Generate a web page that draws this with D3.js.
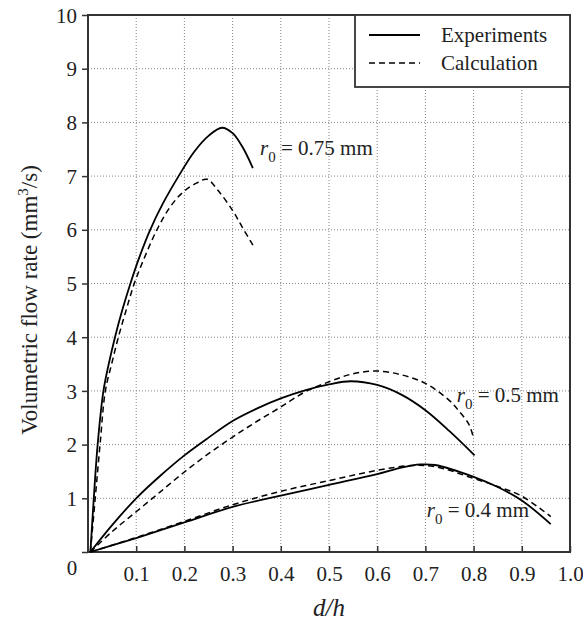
<html>
<head>
<script src="https://d3js.org/d3.v7.min.js"></script>
<style>
  body { margin: 0; background: white; }
  text { font-family: "Liberation Serif", "Times New Roman", "DejaVu Serif", serif; fill: #222; }
</style>
</head>
<body>
<div id="chart"></div>
<script>
// d/h values and flow rates (mm^3/s)
const exp075 = [[0.005,0],[0.012,1],[0.02,2],[0.032,3],[0.043,3.5],[0.056,4],[0.071,4.5],[0.088,5],[0.107,5.5],[0.129,6],[0.156,6.5],[0.188,7],[0.22,7.45],[0.25,7.75],[0.278,7.9],[0.3,7.8],[0.32,7.55],[0.342,7.15]];
const calc075 = [[0.005,0],[0.015,1],[0.025,2],[0.036,3],[0.049,3.5],[0.063,4],[0.079,4.5],[0.096,5],[0.118,5.5],[0.143,6],[0.17,6.42],[0.197,6.7],[0.225,6.87],[0.247,6.94],[0.27,6.73],[0.3,6.36],[0.32,6.05],[0.345,5.67]];
const exp05 = [[0.005,0],[0.05,0.5],[0.1,1.0],[0.15,1.42],[0.2,1.8],[0.25,2.13],[0.3,2.44],[0.35,2.67],[0.4,2.86],[0.45,3.01],[0.5,3.12],[0.545,3.18],[0.6,3.11],[0.65,2.93],[0.7,2.64],[0.75,2.25],[0.802,1.8]];
const calc05 = [[0.005,0],[0.05,0.38],[0.1,0.75],[0.15,1.12],[0.2,1.49],[0.25,1.83],[0.3,2.14],[0.35,2.43],[0.4,2.7],[0.45,2.98],[0.5,3.17],[0.55,3.32],[0.6,3.37],[0.65,3.3],[0.7,3.14],[0.75,2.82],[0.77,2.62],[0.79,2.38],[0.8,2.12]];
const exp04 = [[0.005,0],[0.1,0.26],[0.2,0.55],[0.3,0.84],[0.4,1.05],[0.5,1.25],[0.6,1.45],[0.65,1.57],[0.69,1.63],[0.72,1.62],[0.8,1.4],[0.85,1.21],[0.9,0.96],[0.96,0.52]];
const calc04 = [[0.005,0],[0.1,0.27],[0.2,0.57],[0.3,0.88],[0.4,1.13],[0.5,1.33],[0.6,1.52],[0.67,1.61],[0.72,1.59],[0.8,1.37],[0.85,1.22],[0.9,1.04],[0.96,0.66]];

const xTicks = [0.1,0.2,0.3,0.4,0.5,0.6,0.7,0.8,0.9,1.0];
const yTicks = [1,2,3,4,5,6,7,8,9,10];
const curveLabels = [
  { x: 0.357, y: 7.39, value: "0.75" },
  { x: 0.765, y: 2.79, value: "0.5" },
  { x: 0.703, y: 0.65, value: "0.4" }
];
const legendItems = [
  { name: "Experiments", dash: null },
  { name: "Calculation", dash: "6,4" }
];

const W = 583, H = 620;
const margin = { top: 15, right: 13, bottom: 68, left: 88 };
const width = W - margin.left - margin.right,
  height = H - margin.top - margin.bottom;

const svg = d3.select("#chart").append("svg")
  .attr("width", W).attr("height", H);
const g = svg.append("g")
  .attr("transform", "translate(" + margin.left + "," + margin.top + ")");

const x = d3.scaleLinear().domain([0, 1]).range([0, width]);
const y = d3.scaleLinear().domain([0, 10]).range([height, 0]);

// dotted grid
g.selectAll(".vgrid").data(xTicks.slice(0, -1)).enter().append("line")
  .attr("x1", d => x(d)).attr("x2", d => x(d))
  .attr("y1", 0).attr("y2", height)
  .attr("stroke", "#777").attr("stroke-width", 0.9).attr("stroke-dasharray", "1,2");
g.selectAll(".hgrid").data(yTicks.slice(0, -1)).enter().append("line")
  .attr("y1", d => y(d)).attr("y2", d => y(d))
  .attr("x1", 0).attr("x2", width)
  .attr("stroke", "#777").attr("stroke-width", 0.9).attr("stroke-dasharray", "1,2");

// axes
const yAxis = g.append("g")
  .call(d3.axisLeft(y).tickValues([0].concat(yTicks)).tickSize(6).tickFormat(d => d === 0 ? "" : d));
const xAxis = g.append("g")
  .attr("transform", "translate(0," + height + ")")
  .call(d3.axisBottom(x).tickValues(xTicks).tickSize(-6).tickPadding(16).tickFormat(d3.format(".1f")));
[xAxis, yAxis].forEach(a => {
  a.attr("font-family", null);
  a.select(".domain").remove();
  a.selectAll("line").attr("stroke", "#333").attr("stroke-width", 1.5);
  a.selectAll("text").style("font-size", "21px").attr("fill", "#222");
});
yAxis.selectAll("text").attr("x", -11).attr("dy", "0.34em");
xAxis.selectAll("text").attr("dy", "0.6em");

// the shared "0" in the corner
g.append("text").attr("x", -16).attr("y", height + 23)
  .attr("text-anchor", "middle").style("font-size", "21px").text("0");

// frame
g.append("rect").attr("width", width).attr("height", height)
  .attr("fill", "none").attr("stroke", "#333").attr("stroke-width", 2);

// curves
const line = d3.line().x(d => x(d[0])).y(d => y(d[1])).curve(d3.curveCatmullRom.alpha(0.5));
const series = [
  { data: exp075, dash: null }, { data: calc075, dash: "6,4" },
  { data: exp05, dash: null }, { data: calc05, dash: "6,4" },
  { data: exp04, dash: null }, { data: calc04, dash: "6,4" }
];
g.selectAll(".curve").data(series).enter().append("path")
  .attr("d", d => line(d.data))
  .attr("fill", "none").attr("stroke", "#000")
  .attr("stroke-width", d => d.dash ? 1.5 : 1.8)
  .attr("stroke-dasharray", d => d.dash);

// curve labels r0 = ...
const lab = g.selectAll(".lab").data(curveLabels).enter().append("text")
  .attr("x", d => x(d.x)).attr("y", d => y(d.y))
  .style("font-size", "21px");
lab.append("tspan").style("font-style", "italic").text("r");
lab.append("tspan").attr("dy", 7).style("font-size", "15px").text("0");
lab.append("tspan").attr("dy", -7).text(d => " = " + d.value + " mm");

// legend
const leg = g.append("g").attr("transform", "translate(" + (width - 215) + ",0)");
leg.append("rect").attr("width", 215).attr("height", 72)
  .attr("fill", "white").attr("stroke", "#333").attr("stroke-width", 1.8);
legendItems.forEach((item, i) => {
  const yy = 20 + i * 28;
  leg.append("line").attr("x1", 14).attr("x2", 65).attr("y1", yy).attr("y2", yy)
    .attr("stroke", "#000").attr("stroke-width", item.dash ? 1.5 : 2)
    .attr("stroke-dasharray", item.dash);
  leg.append("text").attr("x", 86).attr("y", yy + 7)
    .style("font-size", "21px").text(item.name);
});

// axis titles
g.append("text").attr("x", width / 2).attr("y", height + 64)
  .attr("text-anchor", "middle").style("font-size", "25px").style("font-style", "italic")
  .text("d/h");
const yt = svg.append("text")
  .attr("transform", "translate(37,300) rotate(-90)")
  .attr("text-anchor", "middle").style("font-size", "23px");
yt.append("tspan").text("Volumetric flow rate (mm");
yt.append("tspan").attr("dy", -9).style("font-size", "15px").text("3");
yt.append("tspan").attr("dy", 9).text("/s)");
</script>
</body>
</html>
